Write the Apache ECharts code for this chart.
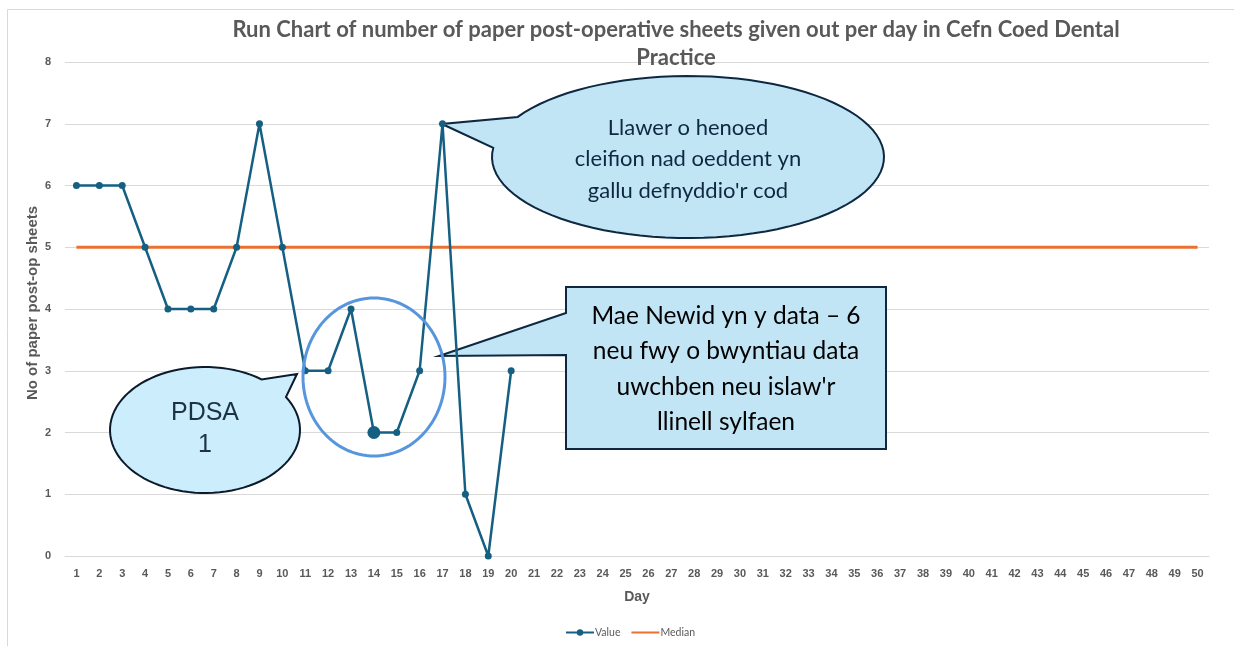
<!DOCTYPE html>
<html>
<head>
<meta charset="utf-8">
<title>Run Chart</title>
<script src="https://cdn.jsdelivr.net/npm/echarts@6/dist/echarts.min.js"></script>
<style>
  html, body { margin: 0; padding: 0; background: #fff; }
  #main { width: 1234px; height: 646px; }
</style>
</head>
<body>
<div id="main"></div>
<script>
// days 1..50
const days = [];
for (let d = 1; d <= 50; d++) days.push(String(d));

// sheets given out per day (only first 20 days recorded)
const values = [6, 6, 6, 5, 4, 4, 4, 5, 7, 5, 3, 3, 4, 2, 2, 3, 7, 1, 0, 3];
// median baseline
const median = days.map(() => 5);
// y ticks 0..8
const yMin = 0, yMax = 8, yStep = 1;

const grey = '#595959';
const calloutFill = '#c2e5f5';
const calloutStroke = '#0e2841';

// ellipse outline with a pointer wedge (a = upper base point, b = lower base point)
function ovalCallout(cx, cy, rx, ry, a, b, tip) {
  const ta = Math.atan2((a[1] - cy) / ry, (a[0] - cx) / rx);
  const tb = Math.atan2((b[1] - cy) / ry, (b[0] - cx) / rx);
  let d = ta - tb;
  while (d > Math.PI) d -= 2 * Math.PI;
  while (d <= -Math.PI) d += 2 * Math.PI;
  const delta = d > 0 ? d - 2 * Math.PI : d + 2 * Math.PI;
  const pts = [tip];
  const n = 90;
  for (let k = 0; k <= n; k++) {
    const t = tb + delta * k / n;
    pts.push([cx + rx * Math.cos(t), cy + ry * Math.sin(t)]);
  }
  return pts;
}

function ring(cx, cy, rx, ry) {
  const pts = [];
  for (let k = 0; k < 120; k++) {
    const t = k / 120 * 2 * Math.PI;
    pts.push([cx + rx * Math.cos(t), cy + ry * Math.sin(t)]);
  }
  return pts;
}

const chart = echarts.init(document.getElementById('main'));

// value points, day 14 drawn with a bigger marker
const valueData = values.map((v, i) => (i === 13 ? { value: v, symbolSize: 13 } : v));

const option = {
  animation: false,
  grid: { left: 65, right: 25, top: 62, bottom: 90 },
  legend: {
    bottom: 3,
    left: 560,
    itemWidth: 28,
    itemHeight: 8,
    itemGap: 10,
    textStyle: { color: grey, fontSize: 10.5, fontFamily: 'Lato', padding: [0, 0, 0, -4] },
    data: [{ name: 'Value' }, { name: 'Median', itemStyle: { opacity: 0 } }]
  },
  xAxis: {
    type: 'category',
    data: days,
    boundaryGap: true,
    name: 'Day',
    nameLocation: 'middle',
    nameGap: 34,
    nameMoveOverlap: false,
    nameTextStyle: { color: grey, fontSize: 14, fontWeight: 'bold', fontFamily: 'Liberation Sans' },
    axisLine: { lineStyle: { color: '#d9d9d9', width: 1 } },
    axisTick: { show: false },
    axisLabel: { interval: 0, color: grey, fontSize: 11, fontWeight: 'bold', fontFamily: 'Liberation Sans', margin: 12 }
  },
  yAxis: {
    type: 'value',
    min: yMin,
    max: yMax,
    interval: yStep,
    name: 'No of paper post-op sheets',
    nameLocation: 'middle',
    nameRotate: 90,
    nameGap: 25,
    nameMoveOverlap: false,
    nameTextStyle: { color: grey, fontSize: 15, fontWeight: 'bold', fontFamily: 'Liberation Sans', padding: [0, 0, 0, 12] },
    axisLine: { show: false },
    axisTick: { show: false },
    axisLabel: { color: grey, fontSize: 11, fontWeight: 'bold', fontFamily: 'Liberation Sans', margin: 14 },
    splitLine: { lineStyle: { color: '#d9d9d9', width: 1 } }
  },
  series: [
    {
      name: 'Value',
      type: 'line',
      data: valueData,
      symbol: 'circle',
      symbolSize: 7,
      z: 5,
      color: '#156082',
      lineStyle: { width: 2.5, color: '#156082' },
      itemStyle: { color: '#156082' }
    },
    {
      name: 'Median',
      type: 'line',
      data: median,
      symbol: 'none',
      z: 4,
      color: '#e97132',
      lineStyle: { width: 3, color: '#e97132' }
    }
  ],
  graphic: [
    // chart border
    {
      type: 'rect', z: 0, silent: true,
      shape: { x: 7.5, y: 9.5, width: 1240, height: 660 },
      style: { fill: null, stroke: '#d9d9d9', lineWidth: 1 }
    },
    // title
    {
      type: 'text', z: 3, x: 676, y: 44, silent: true,
      style: {
        text: 'Run Chart of number of paper post-operative sheets given out per day in Cefn Coed Dental\nPractice',
        fill: grey,
        font: 'bold 22px Lato',
        align: 'center',
        verticalAlign: 'middle',
        lineHeight: 28
      }
    },
    // oval callout (day 17)
    {
      type: 'polygon', z: 1, silent: true,
      shape: { points: ovalCallout(688, 157, 196, 81, [518, 117], [496, 148], [442, 124]) },
      style: { fill: calloutFill, stroke: calloutStroke, lineWidth: 2 }
    },
    {
      type: 'text', z: 3, x: 688, y: 159, silent: true,
      style: {
        text: 'Llawer o henoed\ncleifion nad oeddent yn\ngallu defnyddio\'r cod',
        fill: '#0e2841', font: '22px Lato', align: 'center', verticalAlign: 'middle', lineHeight: 31.5
      }
    },
    // rectangular callout
    {
      type: 'polygon', z: 1, silent: true,
      shape: { points: [[566, 287], [886, 287], [886, 449], [566, 449], [566, 355], [439, 356], [566, 313]] },
      style: { fill: calloutFill, stroke: calloutStroke, lineWidth: 2 }
    },
    {
      type: 'text', z: 3, x: 726, y: 369, silent: true,
      style: {
        text: 'Mae Newid yn y data \u2013 6\nneu fwy o bwyntiau data\nuwchben neu islaw\'r\nllinell sylfaen',
        fill: '#000', font: '24.5px Lato', align: 'center', verticalAlign: 'middle', lineHeight: 35.3
      }
    },
    // PDSA callout
    {
      type: 'polygon', z: 1, silent: true,
      shape: { points: ovalCallout(205, 430, 95, 63, [262, 379], [286, 397], [297, 374]) },
      style: { fill: '#ccedfb', stroke: '#0b1b2b', lineWidth: 2 }
    },
    {
      type: 'text', z: 3, x: 205, y: 429, silent: true,
      style: {
        text: 'PDSA\n1',
        fill: '#1b3344', font: '25px Liberation Sans', align: 'center', verticalAlign: 'middle', lineHeight: 32
      }
    },
    // circled dip
    {
      type: 'polygon', z: 6, silent: true,
      shape: { points: ring(374, 377, 71, 79) },
      style: { fill: null, stroke: '#5796dc', lineWidth: 3 }
    }
  ]
};

chart.setOption(option);
</script>
</body>
</html>
